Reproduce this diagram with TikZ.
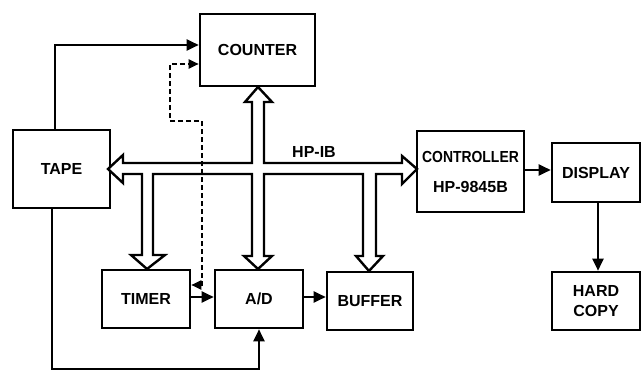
\documentclass[tikz,border=0pt]{standalone}
\usepackage{fontspec}
\setmainfont{Liberation Sans}
\usetikzlibrary{arrows.meta}
\begin{document}
\begin{tikzpicture}[x=1pt,y=-1pt,
  box/.style={draw,line width=2.6pt,inner sep=0pt,align=center,
    font=\bfseries\fontsize{16}{20}\selectfont},
  conn/.style={line width=2.3pt,-{Triangle[length=12pt,width=11pt]}},
  dashconn/.style={line width=2pt,dash pattern=on 5pt off 3pt,
    {Triangle[length=10pt,width=9pt]}-{Triangle[length=10pt,width=9pt]}},
  bus/.style={line width=2.4pt,fill=white,line join=miter},
  lbl/.style={font=\bfseries\fontsize{16}{20}\selectfont,inner sep=0pt}]
\useasboundingbox (0,0) rectangle (642,371);

\node[box,minimum width=115pt,minimum height=72pt] (counter) at (257.5,50) {COUNTER};
\node[box,minimum width=97pt,minimum height=78pt] (tape) at (61.5,169) {TAPE};
\node[box,minimum width=107pt,minimum height=81pt,font=\bfseries\fontsize{16}{30}\selectfont] (ctrl) at (470.5,171.5) {\scalebox{0.87}[1]{CONTROLLER}\\HP-9845B};
\node[box,minimum width=88pt,minimum height=59pt] (display) at (596,172.5) {DISPLAY};
\node[box,minimum width=88pt,minimum height=58pt] (hard) at (596,301) {HARD\\COPY};
\node[box,minimum width=88pt,minimum height=58pt] (timer) at (146,299) {TIMER};
\node[box,minimum width=88pt,minimum height=58pt] (ad) at (259,299) {A/D};
\node[box,minimum width=86pt,minimum height=58pt] (buffer) at (370,301) {BUFFER};

% HP-IB bus
\draw[bus] (108,169) -- (123,155) -- (123,163) -- (252,163) -- (252,102)
  -- (245,102) -- (258,87) -- (272,102) -- (264,102) -- (264,163)
  -- (402,163) -- (402,156) -- (417,169) -- (402,184) -- (402,174)
  -- (376,174) -- (376,256) -- (383,256) -- (369,271) -- (356,256) -- (363,256)
  -- (363,174) -- (264,174) -- (264,256) -- (272,256) -- (258,269)
  -- (244,256) -- (252,256) -- (252,174) -- (153,174) -- (153,255)
  -- (165,255) -- (147,269) -- (131,255) -- (142,255) -- (142,174)
  -- (123,174) -- (123,183) -- cycle;
\node[lbl] (hpib) at (314,152) {HP-IB};

% connectors
\draw[conn] ([xshift=-6.5pt]tape.north) |- ([yshift=5pt]counter.west);
\draw[dashconn] ([yshift=14pt]timer.east) -| (202,121) -| (170,64) -- ([yshift=-14pt]counter.west);
\draw[conn] ([xshift=-9.5pt]tape.south) -- ++(0,160) -| (ad.south);
\draw[conn] ([yshift=2pt]timer.east) -- ([yshift=2pt]ad.west);
\draw[conn] ([yshift=2pt]ad.east) -- ([yshift=2pt]ad.east -| buffer.west);
\draw[conn] ([yshift=1.5pt]ctrl.east) -- ([yshift=1.5pt]ctrl.east -| display.west);
\draw[conn] ([xshift=2pt]display.south) -- ([xshift=2pt]hard.north);
\end{tikzpicture}
\end{document}
